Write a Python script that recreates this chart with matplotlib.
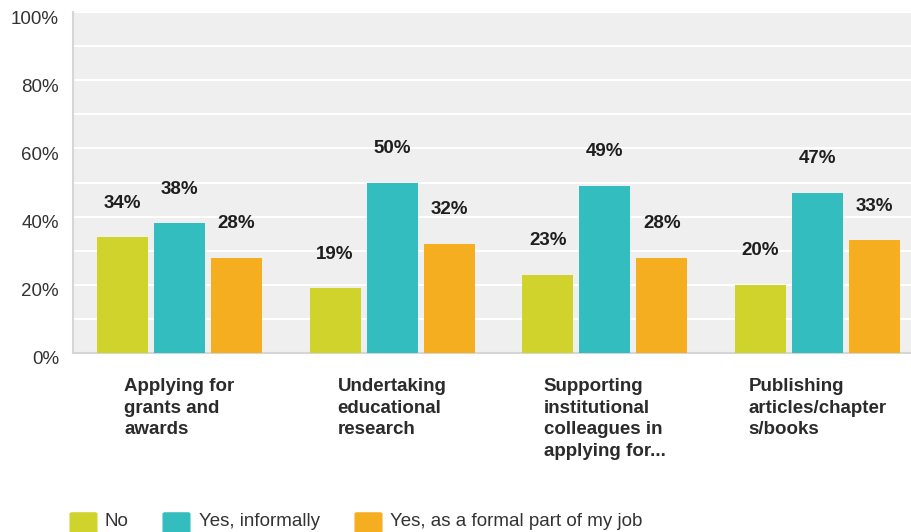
import matplotlib
matplotlib.use("Agg")
import matplotlib.pyplot as plt
from matplotlib.patches import FancyBboxPatch
from matplotlib.transforms import ScaledTranslation, blended_transform_factory
import numpy as np

categories = [
    "Applying for\ngrants and\nawards",
    "Undertaking\neducational\nresearch",
    "Supporting\ninstitutional\ncolleagues in\napplying for...",
    "Publishing\narticles/chapter\ns/books",
]
series_names = ["No", "Yes, informally", "Yes, as a formal part of my job"]
no_vals = [34, 19, 23, 20]
informal_vals = [38, 50, 49, 47]
formal_vals = [28, 32, 28, 33]
series_values = [no_vals, informal_vals, formal_vals]
colors = ["#CFD32B", "#33BDBE", "#F5AE20"]
y_ticks = [0, 20, 40, 60, 80, 100]

plt.rcParams["font.family"] = ["Liberation Sans", "DejaVu Sans"]

W, H, DPI = 912, 532, 100
fig = plt.figure(figsize=(W / DPI, H / DPI), dpi=DPI)
fig.patch.set_facecolor("white")

left_px, right_px, top_px, bottom_px = 73, 924, 12, 353
ax = fig.add_axes([left_px / W, (H - bottom_px) / H,
                   (right_px - left_px) / W, (bottom_px - top_px) / H])
ax.set_facecolor("#EFEFEF")

x = np.arange(len(categories))
bar_w = 0.24
step = 0.268

for i, (vals, col) in enumerate(zip(series_values, colors)):
    pos = x + (i - 1) * step
    ax.bar(pos, vals, width=bar_w, color=col, zorder=3)
    for px_, v in zip(pos, vals):
        ax.annotate(f"{v}%", (px_, v), xytext=(0, 24.5), textcoords="offset points",
                    ha="center", va="center", fontsize=13.5, fontweight="bold",
                    color="#1E1E1E", zorder=4)

ax.set_xlim(-0.5, len(categories) - 0.5)
ax.set_ylim(0, 100)
ax.set_yticks(y_ticks)
ax.set_yticklabels([f"{t}%" for t in y_ticks])
ax.set_yticks(np.arange(10, 100, 10), minor=True)
ax.grid(True, axis="y", which="both", color="white", linewidth=1.5, zorder=1)
ax.set_axisbelow(True)
ax.set_xticks([])
ax.tick_params(axis="y", which="both", length=0, pad=10, labelsize=13.5, labelcolor="#333333")
offset = ScaledTranslation(0, -5 / DPI, fig.dpi_scale_trans)
for lab in ax.get_yticklabels():
    lab.set_transform(lab.get_transform() + offset)

for side in ["top", "right"]:
    ax.spines[side].set_visible(False)
for side in ["left", "bottom"]:
    ax.spines[side].set_color("#D6D6D6")
    ax.spines[side].set_linewidth(1.5)

# category labels under each group
trans = blended_transform_factory(ax.transData, ax.transAxes)
cat_off = ScaledTranslation(0, -25 / DPI, fig.dpi_scale_trans)
for xi, cat in zip(x, categories):
    ax.text(xi, 0, cat, transform=trans + cat_off, ha="center", va="top",
            multialignment="left", fontsize=13.5, fontweight="bold",
            color="#2B2B2B", linespacing=1.36)

# legend row
sq_x = [70, 163, 355]
txt_x = [105, 199, 390]
sq_w, sq_h = 27, 27
sq_top = 512
for sx, tx, name, col in zip(sq_x, txt_x, series_names, colors):
    patch = FancyBboxPatch(((sx + 2) / W, (H - sq_top - sq_h + 2) / H),
                           (sq_w - 4) / W, (sq_h - 4) / H,
                           boxstyle="round,pad=0.002",
                           transform=fig.transFigure, facecolor=col,
                           edgecolor=col, linewidth=1)
    fig.patches.append(patch)
    fig.text(tx / W, (H - 521) / H, name, ha="left", va="center",
             fontsize=13.5, color="#333333")

fig.savefig("out.png", dpi=DPI)
